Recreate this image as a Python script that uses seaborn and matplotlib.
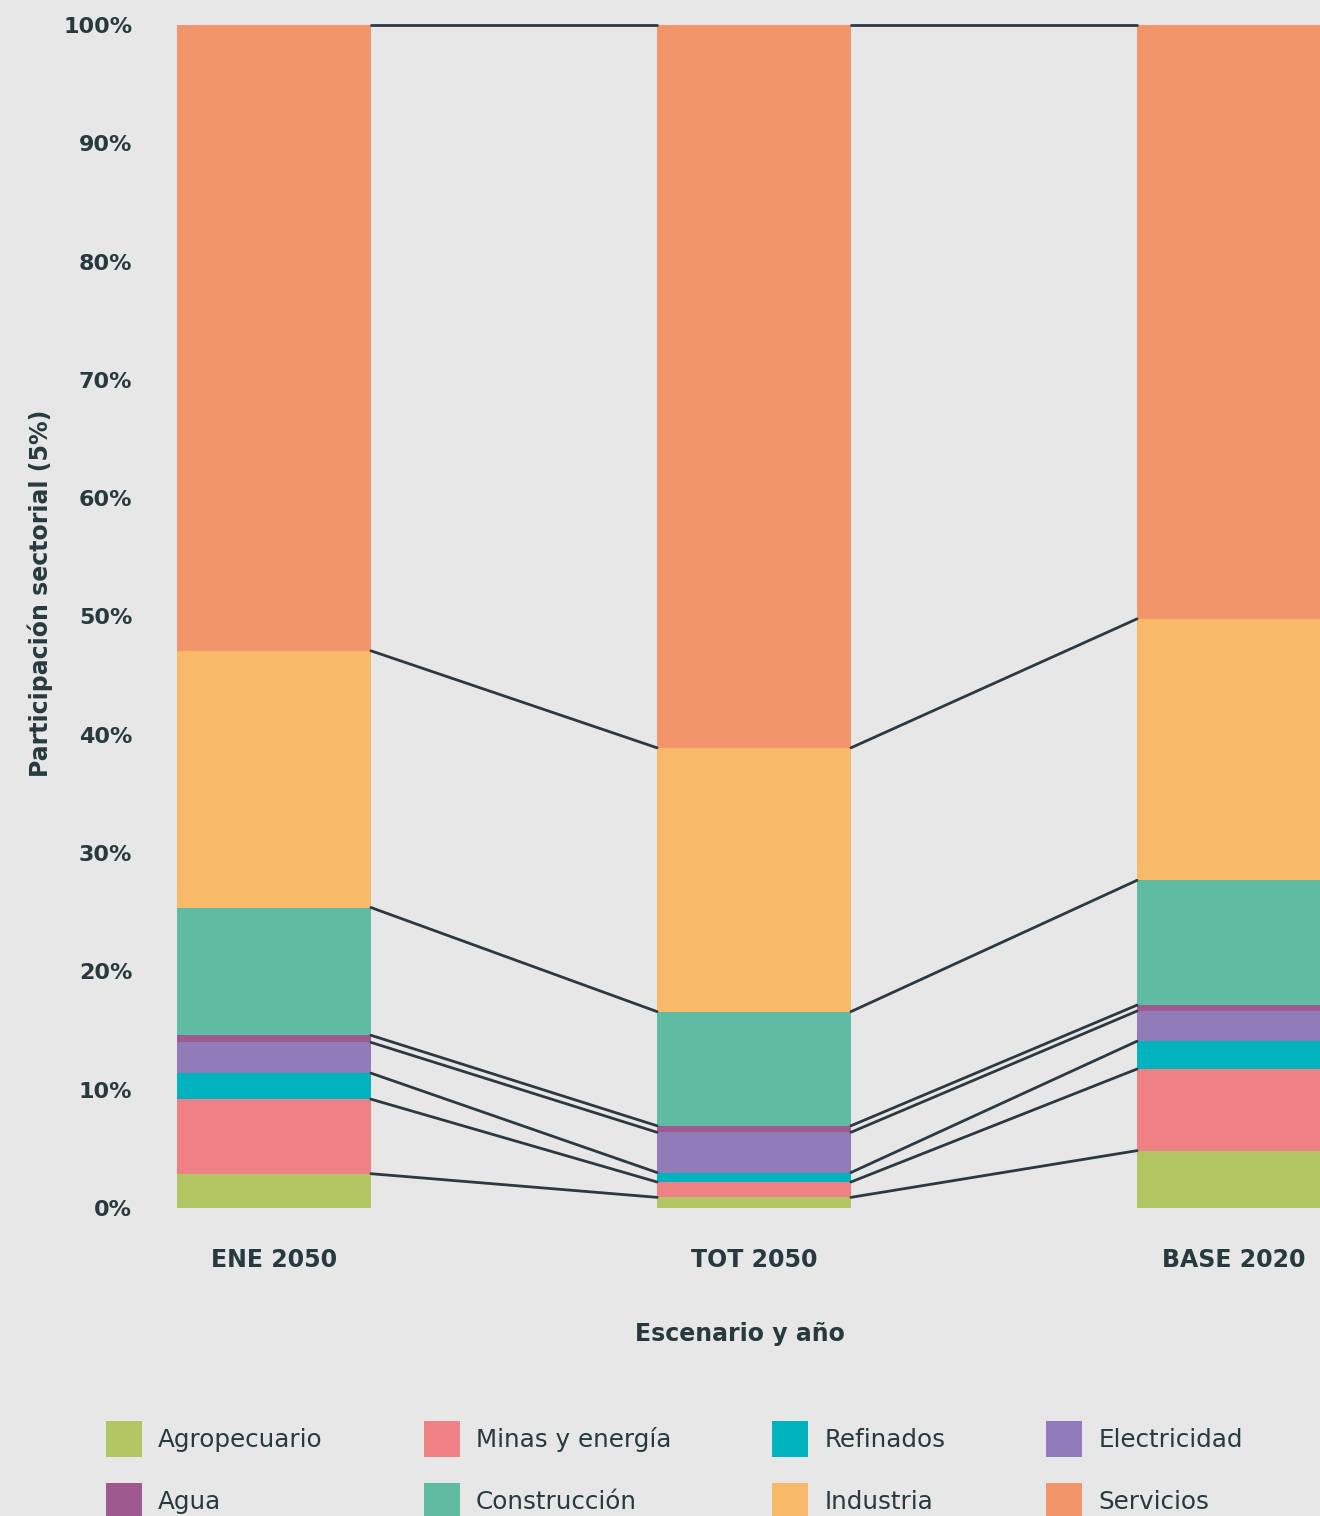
import pandas as pd
import matplotlib.pyplot as plt
import seaborn as sns
from matplotlib.patches import Patch

# datos (participacion %, de abajo hacia arriba)
escenarios = ["ENE 2050", "TOT 2050", "BASE 2020"]
sectores = ["Agropecuario", "Minas y energía", "Refinados", "Electricidad",
            "Agua", "Construcción", "Industria", "Servicios"]
ene_2050 = [2.9, 6.3, 2.2, 2.6, 0.6, 10.8, 21.7, 52.9]
tot_2050 = [0.9, 1.3, 0.8, 3.4, 0.55, 9.65, 22.3, 61.1]
base_2020 = [4.85, 6.9, 2.35, 2.55, 0.5, 10.55, 22.1, 50.2]
colores = ["#b1c662", "#ef8083", "#00b3bf", "#917cb9",
           "#9e5a8e", "#5fbba1", "#f8b969", "#f2956b"]

BG = "#e7e7e7"
DARK = "#263a40"

rows = []
for esc, vals in zip(escenarios, [ene_2050, tot_2050, base_2020]):
    acum = 0
    for sec, v in zip(sectores, vals):
        acum += v
        rows.append({"escenario": esc, "sector": sec, "valor": v, "acum": acum})
df = pd.DataFrame(rows)
# normalizar para que cada barra cierre en 100
df["acum"] = df["acum"] / df.groupby("escenario")["valor"].transform("sum") * 100

sns.set_style("white")
plt.rcParams["font.family"] = ["DejaVu Sans"]

fig = plt.figure(figsize=(13.2, 15.16), dpi=100, facecolor=BG)
ax = fig.add_axes([160 / 1320, 1 - 1208 / 1516, 1160 / 1320, 1183 / 1516])
ax.set_facecolor(BG)

ancho = 0.404
# barras apiladas: se dibuja de la acumulada mayor a la menor
for sec, col in reversed(list(zip(sectores, colores))):
    sub = df[df["sector"] == sec]
    sns.barplot(data=sub, x="escenario", y="acum", order=escenarios,
                color=col, saturation=1, width=ancho, errorbar=None,
                linewidth=0, ax=ax)

# lineas que unen los limites entre barras
for sec in sectores:
    sub = df[df["sector"] == sec].set_index("escenario").loc[escenarios]
    for i in range(len(escenarios) - 1):
        ax.plot([i + ancho / 2, i + 1 - ancho / 2],
                [sub["acum"].iloc[i], sub["acum"].iloc[i + 1]],
                color="#2b3a42", lw=2, clip_on=False, zorder=3)

ax.set_xlim((160 - 274) / 480, (1320 - 274) / 480)
ax.set_ylim(0, 100)
ax.set_yticks(range(0, 101, 10))
ax.set_yticklabels([f"{t}%" for t in range(0, 101, 10)])
for s in ax.spines.values():
    s.set_visible(False)
ax.tick_params(axis="y", length=0, pad=20, labelsize=16, labelcolor=DARK)
ax.tick_params(axis="x", length=0, pad=29, labelsize=17, labelcolor=DARK)
for lab in ax.get_xticklabels() + ax.get_yticklabels():
    lab.set_fontweight("bold")

ax.set_xlabel("Escenario y año", fontsize=17, fontweight="bold",
              color=DARK, labelpad=36)
ax.set_ylabel("Participación sectorial (5%)", fontsize=17,
              fontweight="bold", color=DARK)
ax.yaxis.set_label_coords(-0.092, 0.52)

# leyenda en dos filas (orden por columnas)
orden = [0, 4, 1, 5, 2, 6, 3, 7]
handles = [Patch(facecolor=colores[k], edgecolor="none") for k in orden]
labels = [sectores[k] for k in orden]
fig.legend(handles, labels, ncol=4, loc="upper left",
           bbox_to_anchor=(106 / 1320, 1 - 1421 / 1516),
           frameon=False, fontsize=17.7, labelcolor=DARK,
           handlelength=1.46, handleheight=1.88, handletextpad=0.65,
           labelspacing=1.06, columnspacing=4.12, borderpad=0,
           borderaxespad=0)

fig.savefig("out.png", dpi=100, facecolor=BG)
